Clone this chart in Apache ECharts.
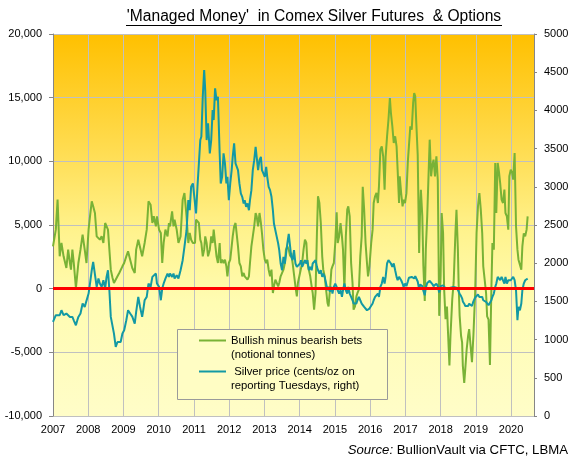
<!DOCTYPE html>
<html><head><meta charset="utf-8">
<script src="https://cdn.jsdelivr.net/npm/echarts@6/dist/echarts.min.js"></script>
<style>html,body{margin:0;padding:0;background:#fff}#c{width:573px;height:461px}</style>
</head><body><div id="c"></div>
<script>
// Decimal-year dates of the reporting points
const dates = [
2007.00,2007.08,2007.13,2007.19,2007.24,2007.30,2007.38,2007.43,2007.48,2007.51,2007.55,2007.59,2007.65,2007.69,2007.72,2007.78,2007.84,2007.90,2007.95,
2008.01,2008.05,2008.10,2008.14,2008.19,2008.24,2008.29,2008.33,2008.38,2008.43,2008.48,2008.52,2008.56,2008.60,2008.64,2008.69,2008.73,2008.78,2008.83,2008.88,2008.92,2008.97,
2009.02,2009.08,2009.13,2009.19,2009.25,2009.32,2009.36,2009.42,2009.47,2009.53,2009.56,2009.60,2009.66,2009.71,2009.77,2009.82,2009.86,2009.92,2009.95,
2010.01,2010.06,2010.10,2010.14,2010.19,2010.25,2010.29,2010.32,2010.38,2010.42,2010.45,2010.51,2010.56,2010.62,2010.68,2010.73,2010.79,2010.84,2010.88,2010.92,2010.97,
2011.03,2011.06,2011.10,2011.14,2011.18,2011.21,2011.25,2011.29,2011.32,2011.36,2011.40,2011.45,2011.49,2011.53,2011.56,2011.60,2011.64,2011.68,2011.73,2011.76,2011.80,2011.84,2011.88,2011.92,2011.95,2011.99,
2012.03,2012.07,2012.10,2012.14,2012.18,2012.22,2012.25,2012.29,2012.33,2012.37,2012.41,2012.44,2012.48,2012.52,2012.56,2012.59,2012.63,2012.67,2012.71,2012.75,2012.78,2012.82,2012.86,2012.90,2012.93,2012.97,
2013.01,2013.05,2013.08,2013.12,2013.16,2013.20,2013.24,2013.27,2013.31,2013.35,2013.39,2013.42,2013.46,2013.50,2013.54,2013.58,2013.61,2013.65,2013.69,2013.73,2013.76,2013.80,2013.84,2013.88,2013.92,2013.95,
2014.01,2014.04,2014.07,2014.11,2014.15,2014.19,2014.22,2014.26,2014.30,2014.34,2014.37,2014.41,2014.45,2014.49,2014.52,2014.56,2014.60,2014.64,2014.67,2014.71,2014.75,2014.79,2014.82,2014.86,2014.90,2014.93,2014.97,
2015.01,2015.05,2015.08,2015.12,2015.16,2015.20,2015.23,2015.27,2015.31,2015.35,2015.38,2015.42,2015.46,2015.50,2015.53,2015.57,2015.61,2015.64,2015.68,2015.72,2015.76,2015.79,2015.83,2015.87,2015.91,2015.94,2015.98,
2016.03,2016.07,2016.10,2016.14,2016.18,2016.22,2016.25,2016.29,2016.33,2016.37,2016.41,2016.44,2016.48,2016.52,2016.56,2016.59,2016.63,2016.67,2016.71,2016.75,2016.78,2016.82,2016.84,2016.88,2016.92,2016.95,2016.99,
2017.03,2017.07,2017.10,2017.14,2017.18,2017.22,2017.25,2017.28,2017.31,2017.35,2017.39,2017.42,2017.44,2017.48,2017.51,2017.55,2017.58,2017.62,2017.65,2017.69,2017.73,2017.76,2017.80,2017.84,2017.88,2017.92,2017.96,
2018.00,2018.03,2018.07,2018.10,2018.14,2018.18,2018.21,2018.25,2018.28,2018.33,2018.37,2018.42,2018.45,2018.49,2018.51,2018.54,2018.58,2018.61,2018.63,2018.67,2018.70,2018.74,2018.78,2018.81,2018.85,2018.89,2018.93,2018.98,
2019.02,2019.06,2019.10,2019.14,2019.18,2019.21,2019.25,2019.29,2019.32,2019.36,2019.40,2019.44,2019.47,2019.51,2019.55,2019.58,2019.62,2019.66,2019.69,2019.73,2019.77,2019.81,2019.84,2019.88,2019.92,2019.95,2019.99,
2020.03,2020.06,2020.10,2020.14,2020.18,2020.21,2020.25,2020.29,2020.32,2020.36,2020.40,2020.44,2020.47
];

// Managed money: bullish minus bearish bets, notional tonnes (left axis)
const netPosition = [
3325,4634,6990,2539,3587,2539,1623,3063,2016,1492,3063,2016,50,183,2016,3063,4241,3063,2016,
4634,5681,6859,6466,5943,4110,3979,3848,4110,3587,5157,5288,4634,3063,1492,838,445,445,969,1230,1100,1754,
2016,2539,2932,2278,1623,1230,3063,3848,3718,2539,2539,3587,4634,6859,6597,5157,5681,4896,5681,
4634,4372,2016,3587,4634,4110,5157,4896,6074,4896,5419,4634,3587,4110,6990,7514,5681,3587,4372,3848,3587,
3587,5419,5419,5157,3848,3587,2539,3063,4110,3587,2539,3063,4110,3587,4634,3587,2539,2016,3587,2016,2278,2016,2278,1754,969,2016,
2278,3325,4110,4896,5157,4110,3325,2016,1754,969,1230,969,969,707,969,2016,3325,4110,4896,5943,5681,4896,5943,5157,4372,3063,
2278,2016,2278,1492,969,1492,-340,183,707,445,183,445,969,969,1492,2016,3063,3325,3063,2539,2801,2016,2016,183,-602,445,
1230,1230,2016,3063,3848,3587,2016,1492,969,183,-340,-1649,-340,4372,7252,6728,5157,2539,1492,969,-79,-1126,-1388,-79,1492,1754,2016,
3587,6000,3587,4110,5157,4110,3063,-79,4110,6205,6466,5681,2016,445,-1649,-1388,-602,-340,-79,2539,4110,8000,6205,3587,2016,969,1754,
3587,4634,6728,7252,7514,6728,8037,10917,11179,10393,7775,10393,11964,13273,14975,13797,12750,11441,11964,11179,9346,6728,8823,7514,6466,6990,6728,
7500,10000,11179,12750,12488,14583,15367,15105,13000,10500,2801,6500,7760,5700,1800,-960,3100,5700,8300,11702,8823,9608,10132,8823,10393,8500,-2135,
990,5940,4375,-50,-2400,-1400,-3440,-6040,-3700,-830,470,4375,6200,3070,470,-2135,-3700,-4220,-6040,-7400,-6300,-4740,-3700,-3180,-4480,-5780,-3700,-310,
4375,6460,7514,6205,4372,1754,1754,-340,-2173,-2435,-6000,-79,3587,3063,9870,5943,9870,9085,8299,6990,6728,7775,5943,5681,4634,8823,9346,
9085,8561,10655,4896,3063,2278,2278,1492,3325,4346,4110,4634,5681
];

// Silver price, cents/oz on reporting Tuesdays (right axis)
const silverPrice = [
1231,1319,1297,1319,1384,1319,1341,1319,1297,1275,1297,1253,1188,1253,1297,1341,1472,1428,1428,
1603,1734,1908,2017,1996,1690,1799,1734,1690,1777,1668,1821,1908,1646,1297,1319,1079,904,969,991,969,1079,
1122,1253,1384,1341,1300,1210,1362,1559,1428,1297,1384,1515,1559,1734,1690,1821,1821,1865,1734,
1690,1515,1668,1734,1799,1865,1821,1865,1821,1865,1799,1843,1799,1908,2039,2214,2432,2825,2694,3000,3044,
2782,2651,3000,3306,3612,3655,4179,4529,4267,3612,3830,3437,3612,4005,3874,4288,4135,4179,3437,3044,3131,3437,3306,3044,3131,2825,
3044,3218,3393,3568,3306,3306,3218,3044,2913,2869,2782,2825,2738,2782,2694,2825,2956,3218,3349,3524,3393,3218,3349,3393,3218,3175,
3131,3262,3131,3000,2956,2869,2694,2520,2432,2345,2258,2170,1996,1908,2083,1996,1996,2258,2384,2214,2083,2039,2170,1996,1952,1952,
1996,2039,1952,1996,2039,1996,2039,1908,1952,1908,1996,1996,2039,1952,1908,1865,1908,1821,1865,1821,1734,1646,1690,1625,1690,1603,1690,
1734,1690,1646,1603,1646,1559,1646,1734,1646,1603,1690,1603,1559,1515,1472,1472,1472,1515,1559,1515,1472,1450,1428,1428,1384,1393,1406,
1428,1472,1515,1559,1559,1603,1559,1690,1734,1821,1734,1821,1996,2039,2061,1996,1952,1996,1908,1821,1777,1821,1799,1777,1734,1690,1734,
1700,1760,1810,1800,1820,1830,1800,1830,1800,1760,1660,1720,1745,1700,1640,1580,1680,1740,1760,1770,1790,1730,1700,1720,1730,1700,1615,
1700,1725,1710,1690,1670,1690,1670,1650,1680,1670,1690,1670,1680,1650,1640,1600,1570,1540,1500,1470,1440,1460,1440,1470,1450,1440,1500,1550,
1560,1590,1559,1537,1559,1515,1515,1494,1472,1450,1472,1515,1559,1603,1690,1734,1821,1843,1777,1821,1777,1734,1821,1734,1777,1799,1777,
1799,1821,1777,1646,1253,1428,1384,1472,1646,1734,1777,1799,1799
];

const leftAxisRange = [-10000, 20000, 5000];
const rightAxisRange = [0, 5000, 500];
const yearRange = [2007, 2020.65, 1];

const nameNet = 'Bullish minus bearish bets\n(notional tonnes)';
const namePrice = ' Silver price (cents/oz on\nreporting Tuesdays, right)';
const FONT = 'Liberation Sans, Arial, sans-serif';
const GREEN = '#79B236';
const TEAL = '#1399A4';

const chart = echarts.init(document.getElementById('c'), null, {renderer: 'canvas'});
chart.setOption({
  animation: false,
  backgroundColor: '#ffffff',
  textStyle: {fontFamily: FONT},
  grid: {
    left: 53, right: 39, top: 34, bottom: 45,
    outerBoundsMode: 'none', containLabel: false,
    show: true, borderWidth: 0,
    backgroundColor: {
      type: 'linear', x: 0, y: 0, x2: 0, y2: 1,
      colorStops: [
        {offset: 0, color: '#FFC000'},
        {offset: 0.3, color: '#FFDC50'},
        {offset: 0.52, color: '#FFF38E'},
        {offset: 0.7, color: '#FFFCB2'},
        {offset: 1, color: '#FFFDC8'}
      ]
    }
  },
  xAxis: {
    type: 'value', min: yearRange[0], max: yearRange[1], interval: yearRange[2],
    axisLine: {show: true, lineStyle: {color: '#868686', width: 1}},
    axisTick: {show: false},
    splitLine: {show: true, lineStyle: {color: '#C0C0C0', width: 1}},
    axisLabel: {
      color: '#000', fontFamily: FONT, fontSize: 11, margin: 8,
      showMaxLabel: false,
      formatter: v => (Math.abs(v - Math.round(v)) < 1e-6 ? String(Math.round(v)) : '')
    }
  },
  yAxis: [{
    type: 'value', position: 'left',
    min: leftAxisRange[0], max: leftAxisRange[1], interval: leftAxisRange[2],
    axisLine: {show: true, lineStyle: {color: '#868686', width: 1}},
    axisTick: {show: true, length: 4, inside: false, lineStyle: {color: '#868686'}},
    splitLine: {show: true, lineStyle: {color: '#C0C0C0', width: 1}},
    axisLabel: {
      color: '#000', fontFamily: FONT, fontSize: 11, margin: 11,
      formatter: v => v.toLocaleString('en-US')
    }
  }, {
    type: 'value', position: 'right',
    min: rightAxisRange[0], max: rightAxisRange[1], interval: rightAxisRange[2],
    axisLine: {show: true, lineStyle: {color: '#868686', width: 1}},
    axisTick: {show: true, length: 3, inside: false, lineStyle: {color: '#868686'}},
    splitLine: {show: false},
    axisLabel: {color: '#000', fontFamily: FONT, fontSize: 11, margin: 10, formatter: v => String(v)}
  }],
  legend: {
    data: [nameNet, namePrice],
    orient: 'vertical', left: 199, top: 321, padding: 0,
    itemWidth: 27, itemHeight: 2, itemGap: -8, icon: 'rect',
    selectedMode: false,
    formatter: name => '{s| }\n' + name.split('\n').map(l => '{a|' + l + '}').join('\n'),
    textStyle: {
      color: '#000', fontFamily: FONT, fontSize: 11.3,
      rich: {
        s: {fontSize: 11.3, lineHeight: 14, fontFamily: FONT},
        a: {fontSize: 11.3, lineHeight: 14, fontFamily: FONT, color: '#000'}
      }
    }
  },
  graphic: [
    {type: 'rect', z: 3, silent: true,
     shape: {x: 177.5, y: 329.5, width: 210, height: 70},
     style: {fill: '#FFFDC4', stroke: '#9A9A9A', lineWidth: 1}},
    {type: 'text', z: 10, silent: true,
     style: {text: "'Managed Money'  in Comex Silver Futures  & Options", x: 314, y: 17,
       align: 'center', verticalAlign: 'middle', fill: '#000',
       font: '15.6px ' + FONT}},
    {type: 'line', z: 10, silent: true,
     shape: {x1: 126, y1: 25.5, x2: 502, y2: 25.5},
     style: {stroke: '#000', lineWidth: 1}},
    {type: 'text', z: 10, silent: true,
     style: {text: '{i|Source:} BullionVault via CFTC, LBMA', x: 568, y: 450,
       align: 'right', verticalAlign: 'middle', fill: '#000',
       font: '13.2px ' + FONT,
       rich: {i: {fontStyle: 'italic', fontSize: 13.2, fontFamily: FONT, fill: '#000'}}}}
  ],
  series: [
    {type: 'line', name: 'zero', data: [], z: 1, silent: true,
     markLine: {silent: true, symbol: ['none', 'none'], label: {show: false},
       lineStyle: {color: '#FF0000', width: 3, type: 'solid'},
       emphasis: {disabled: true},
       data: [{yAxis: 0}]}},
    {type: 'line', name: nameNet, yAxisIndex: 0, z: 2,
     color: GREEN, showSymbol: false, symbol: 'none',
     lineStyle: {color: GREEN, width: 2}, itemStyle: {color: GREEN},
     data: dates.map((d, i) => [d, netPosition[i]])},
    {type: 'line', name: namePrice, yAxisIndex: 1, z: 3,
     color: TEAL, showSymbol: false, symbol: 'none',
     lineStyle: {color: TEAL, width: 2}, itemStyle: {color: TEAL},
     data: dates.map((d, i) => [d, silverPrice[i]])}
  ]
});
</script>
</body></html>
